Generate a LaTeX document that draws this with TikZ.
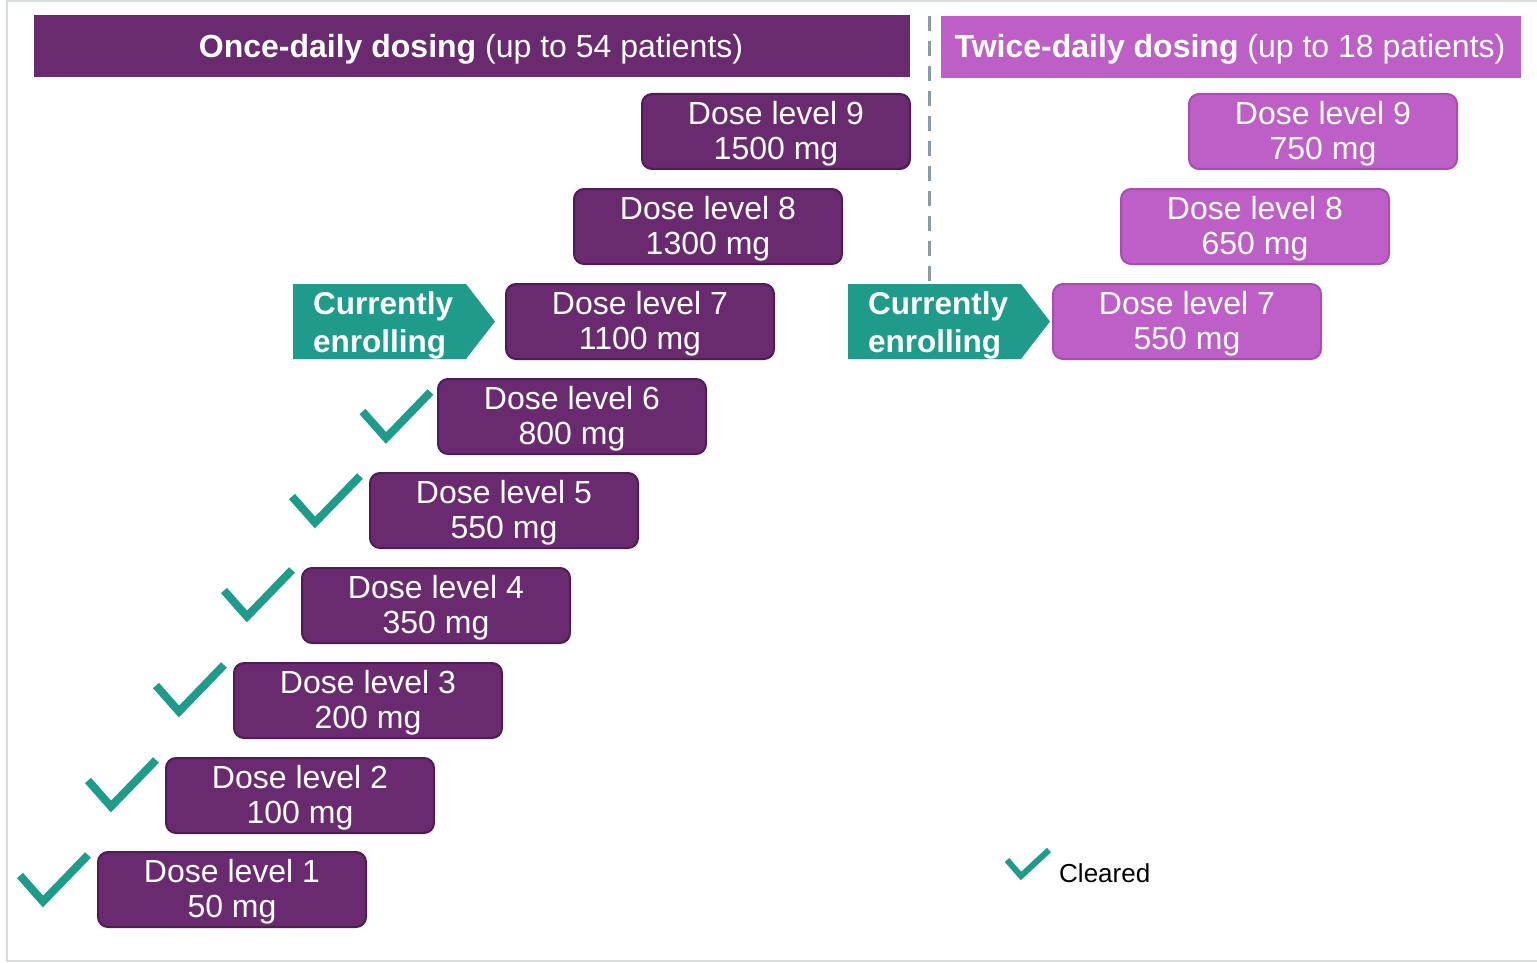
\documentclass[tikz,border=0pt]{standalone}
\usepackage{fontspec}
\setmainfont{Liberation Sans}
\definecolor{dpurple}{HTML}{6A2A70}
\definecolor{dborder}{HTML}{4E1D54}
\definecolor{lpurple}{HTML}{BD5FC7}
\definecolor{lborder}{HTML}{A94DB3}
\definecolor{teal2}{HTML}{1E9B8A}
\definecolor{dashgray}{HTML}{8A9AA6}
\definecolor{framegray}{HTML}{D6DDE0}
\tikzset{
  dosebox/.style={draw=dborder, line width=2pt, fill=dpurple, rounded corners=10pt,
    minimum width=268pt, minimum height=75pt, anchor=north west, inner sep=0pt},
  dosetwo/.style={dosebox, draw=lborder, fill=lpurple},
  dosetxt/.style={text=white, align=center, inner sep=0pt,
    font=\fontsize{32}{35}\selectfont},
  hdr/.style={inner sep=0pt, text=white, font=\fontsize{32}{35}\selectfont},
  chk/.style={draw=teal2, line width=8pt, line cap=butt, line join=miter},
  enroll/.style={fill=teal2, draw=none},
  enrolltxt/.style={anchor=west, align=left, text=white, inner sep=0pt,
    font=\bfseries\fontsize{31.5}{38}\selectfont},
}
\newcommand{\dosenode}[5]{%
  \node[#5] (#1) at (#2) {};
  \node[dosetxt] (#1t) at ([yshift=-2pt]#1.center) {#3\\#4};
}
\begin{document}
\begin{tikzpicture}[x=1pt,y=-1pt]
\useasboundingbox (0,0) rectangle (1537,963);
% frame
\draw[framegray, line width=2pt] (7,1) rectangle (1540,961);
% headers
\fill[dpurple] (34,15) rectangle (910,77);
\node[hdr] (h1) at (471,49) {\textbf{Once-daily dosing} (up to 54 patients)};
\fill[lpurple] (941,16) rectangle (1521,78);
\node[hdr] (h2) at (1230,49) {\textbf{Twice-daily dosing} (up to 18 patients)};
% dashed divider
\coordinate (dtop) at (929,16);
\coordinate (dbot) at (929,282);
\draw[dashgray, line width=3pt, dash pattern=on 15pt off 10pt] (dtop) -- (dbot);
% once-daily boxes
\dosenode{d9}{641,93}{Dose level 9}{1500 mg}{dosebox}
\dosenode{d8}{573,188}{Dose level 8}{1300 mg}{dosebox}
\dosenode{d7}{505,283}{Dose level 7}{1100 mg}{dosebox}
\dosenode{d6}{437,378}{Dose level 6}{800 mg}{dosebox}
\dosenode{d5}{369,472}{Dose level 5}{550 mg}{dosebox}
\dosenode{d4}{301,567}{Dose level 4}{350 mg}{dosebox}
\dosenode{d3}{233,662}{Dose level 3}{200 mg}{dosebox}
\dosenode{d2}{165,757}{Dose level 2}{100 mg}{dosebox}
\dosenode{d1}{97,851}{Dose level 1}{50 mg}{dosebox}
% twice-daily boxes
\dosenode{t9}{1188,93}{Dose level 9}{750 mg}{dosetwo}
\dosenode{t8}{1120,188}{Dose level 8}{650 mg}{dosetwo}
\dosenode{t7}{1052,283}{Dose level 7}{550 mg}{dosetwo}
% currently enrolling arrows
\fill[enroll] (293,284) -- (466,284) -- (495,321.5) -- (466,359) -- (293,359) -- cycle;
\node[enrolltxt] (e1) at (313,325) {Currently\\enrolling};
\fill[enroll] (848,284) -- (1021,284) -- (1050,321.5) -- (1021,359) -- (848,359) -- cycle;
\node[enrolltxt] (e2) at (868,325) {Currently\\enrolling};
% checkmarks
\foreach \bx/\by in {96/850,164/755,232/660,300/565,368/471}{
  \draw[chk] (\bx-76,\by+25.5) -- (\bx-53,\by+51.5) -- (\bx-8,\by+5);
}
\draw[chk] (362.5,411.5) -- (386,438) -- (430.5,392);
% legend
\draw[chk, line width=6pt] (1007,860) -- (1021,876) -- (1049,850);
\node[anchor=west, inner sep=0pt, font=\fontsize{26}{30}\selectfont] (leg) at (1059,873) {Cleared};
\end{tikzpicture}
\end{document}
